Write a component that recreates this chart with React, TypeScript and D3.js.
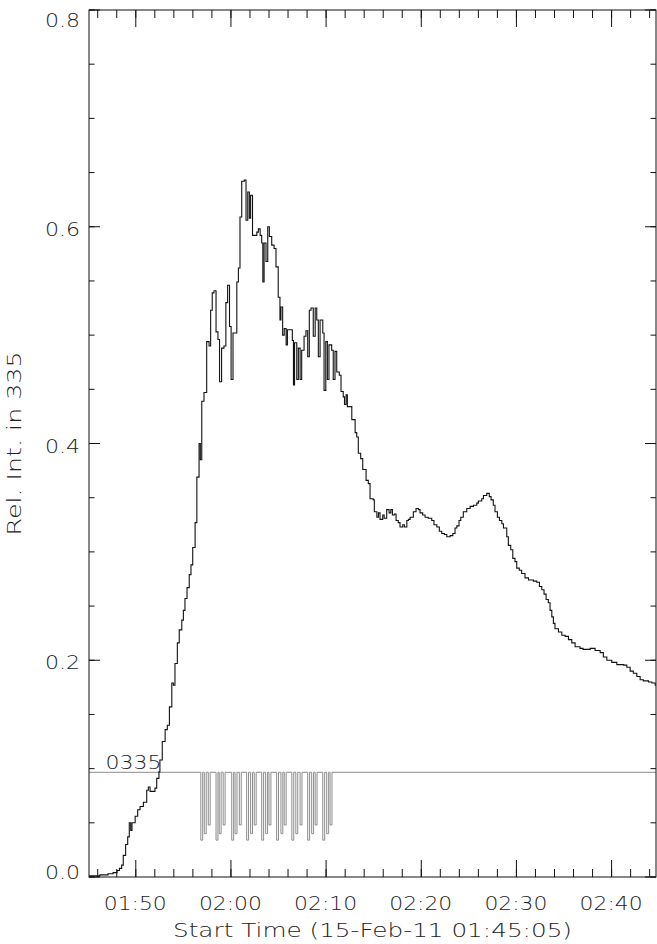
import React from "react";
import * as d3 from "d3";

// ---- data ----
const startLabel = "15-Feb-11 01:45:05";
const startClockSec = 1 * 3600 + 45 * 60 + 5;
const endSec = 3575;

// seconds since start, relative intensity (step data)
const timeSec = [
  0, 69, 120, 152, 177, 192, 206, 216, 231, 244, 254, 263, 271, 291, 307, 322, 343, 364, 374, 385,
  416, 427, 441, 447, 462, 480, 494, 507, 522, 532, 542, 557, 569, 585, 595, 605, 618, 632, 643, 654,
  669, 680, 694, 702, 711, 725, 742, 757, 767, 777, 788, 801, 813, 823, 836, 851, 863, 874, 886, 896,
  908, 932, 942, 952, 963, 979, 990, 1001, 1011, 1019, 1031, 1058, 1068, 1079, 1089, 1096, 1104, 1116, 1127, 1137,
  1152, 1167, 1179, 1193, 1204, 1210, 1221, 1231, 1243, 1251, 1282, 1289, 1296, 1310, 1320, 1331, 1341, 1356, 1368, 1379,
  1389, 1400, 1414, 1426, 1436, 1446, 1457, 1474, 1482, 1493, 1503, 1513, 1530, 1540, 1551, 1562, 1578, 1589, 1603, 1611,
  1621, 1629, 1657, 1678, 1688, 1698, 1713, 1726, 1747, 1761, 1772, 1792, 1799, 1815, 1825, 1835, 1852, 1861, 1877, 1892,
  1903, 1913, 1925, 1936, 1950, 1961, 1978, 1988, 2004, 2014, 2025, 2045, 2062, 2077, 2087, 2104, 2119, 2139, 2161, 2175,
  2193, 2209, 2224, 2241, 2256, 2277, 2294, 2308, 2319, 2333, 2344, 2360, 2382, 2403, 2424, 2445, 2455, 2476, 2487, 2508,
  2524, 2535, 2549, 2560, 2575, 2588, 2603, 2613, 2634, 2644, 2659, 2672, 2686, 2697, 2713, 2728, 2749, 2771, 2802, 2823,
  2840, 2855, 2869, 2882, 2896, 2907, 2918, 2928, 2938, 2960, 2981, 3002, 3023, 3044, 3065, 3096, 3115, 3160, 3191, 3223,
  3243, 3265, 3296, 3328, 3371, 3391, 3412, 3432, 3454, 3475, 3495, 3528, 3549, 3570,
];
const relInt = [
  0.001, 0.002, 0.003, 0.004, 0.006, 0.008, 0.011, 0.02, 0.03, 0.037, 0.05, 0.043, 0.05, 0.056, 0.062, 0.065, 0.069, 0.08, 0.083, 0.079,
  0.082, 0.091, 0.097, 0.108, 0.125, 0.136, 0.14, 0.157, 0.179, 0.177, 0.197, 0.216, 0.228, 0.237, 0.246, 0.257, 0.267, 0.279, 0.288, 0.304,
  0.327, 0.369, 0.4, 0.385, 0.439, 0.447, 0.494, 0.49, 0.523, 0.539, 0.541, 0.503, 0.496, 0.457, 0.488, 0.49, 0.53, 0.546, 0.508, 0.459,
  0.502, 0.549, 0.562, 0.609, 0.642, 0.643, 0.606, 0.632, 0.608, 0.629, 0.592, 0.595, 0.598, 0.592, 0.585, 0.549, 0.585, 0.568, 0.6, 0.591,
  0.583, 0.58, 0.563, 0.535, 0.514, 0.526, 0.5, 0.506, 0.491, 0.505, 0.495, 0.454, 0.493, 0.459, 0.488, 0.459, 0.486, 0.499, 0.504, 0.48,
  0.523, 0.525, 0.499, 0.525, 0.514, 0.48, 0.514, 0.502, 0.449, 0.494, 0.459, 0.491, 0.486, 0.459, 0.485, 0.466, 0.463, 0.448, 0.443, 0.436,
  0.445, 0.434, 0.422, 0.41, 0.406, 0.391, 0.386, 0.376, 0.366, 0.363, 0.349, 0.348, 0.337, 0.332, 0.336, 0.33, 0.334, 0.331, 0.339, 0.336,
  0.339, 0.334, 0.335, 0.329, 0.327, 0.323, 0.325, 0.323, 0.329, 0.33, 0.332, 0.337, 0.34, 0.339, 0.336, 0.334, 0.332, 0.331, 0.329, 0.325,
  0.323, 0.319, 0.317, 0.316, 0.314, 0.315, 0.317, 0.322, 0.324, 0.329, 0.332, 0.337, 0.34, 0.342, 0.343, 0.345, 0.347, 0.349, 0.352, 0.354,
  0.351, 0.348, 0.343, 0.337, 0.332, 0.329, 0.326, 0.322, 0.314, 0.306, 0.302, 0.294, 0.291, 0.285, 0.283, 0.28, 0.276, 0.274, 0.273, 0.272,
  0.268, 0.265, 0.261, 0.256, 0.253, 0.246, 0.24, 0.234, 0.229, 0.226, 0.223, 0.222, 0.219, 0.216, 0.2125, 0.211, 0.21, 0.211, 0.209, 0.207,
  0.203, 0.2, 0.198, 0.196, 0.1955, 0.1935, 0.19, 0.188, 0.185, 0.182, 0.181, 0.18, 0.179, 0.177,
];

// exposure flag markers (gray)
const flagLabel = "0335";
const flagLevel = 0.0966;
const flagWidthSec = 12;
const flagTimeSec = [
  705, 727, 752, 801, 821, 846, 900, 921, 948, 994, 1019, 1042, 1089, 1114, 1135,
  1183, 1210, 1231, 1279, 1304, 1331, 1379, 1404, 1426, 1474, 1499, 1520,
];
const flagValue = [
  0.034, 0.04, 0.048, 0.034, 0.04, 0.048, 0.034, 0.04, 0.048, 0.034, 0.04, 0.048, 0.034, 0.04, 0.048,
  0.034, 0.04, 0.048, 0.034, 0.04, 0.048, 0.034, 0.04, 0.048, 0.034, 0.04, 0.048,
];

const yMajor = [0, 0.2, 0.4, 0.6, 0.8];
const yTickLabels = ["0.0", "0.2", "0.4", "0.6", "0.8"];
const xTickLabels = ["01:50", "02:00", "02:10", "02:20", "02:30", "02:40"];
const yTitle = "Rel. Int. in 335";
const xTitle = "Start Time (" + startLabel + ")";

// ---- layout ----
const W = 657;
const H = 944;
const L = 89;
const R = 656;
const T = 10;
const B = 877;
const FONT = "'DejaVu Sans', sans-serif";
const INK = "#222";
const FS = 19;
const ADJ = "spacingAndGlyphs";

function clockToSec(s: string) {
  const [h, m] = s.split(":").map(Number);
  return h * 3600 + m * 60 - startClockSec;
}

export default function App() {
  const x = d3.scaleLinear().domain([0, endSec]).range([L, R]);
  const y = d3.scaleLinear().domain([0, 0.8]).range([B, T]);

  const pts: [number, number][] = timeSec.map((t, i) => [t, relInt[i]]);
  pts.push([endSec, relInt[relInt.length - 1]]);
  const line = d3
    .line<[number, number]>()
    .x((d) => x(d[0]))
    .y((d) => y(d[1]))
    .curve(d3.curveStepAfter);

  const flagPts: [number, number][] = [[0, flagLevel]];
  flagTimeSec.forEach((t, i) => {
    flagPts.push([t, flagValue[i]]);
    flagPts.push([t + flagWidthSec, flagLevel]);
  });
  flagPts.push([endSec, flagLevel]);

  const yMinor = d3.range(0, 0.8001, 0.05);
  const majorX = xTickLabels.map(clockToSec);
  const minorX: number[] = [];
  for (let s = clockToSec("01:46"); s <= endSec; s += 120) minorX.push(s);

  const xMajLen = 17;
  const xMinLen = 8;
  const yMajLen = 11;
  const yMinLen = 5.5;

  return (
    <svg width={W} height={H} style={{ position: "absolute", left: 0, top: 0, background: "#fff" }}>
      <defs>
        <clipPath id="plotclip">
          <rect x={L} y={T} width={R - L} height={B - T} />
        </clipPath>
      </defs>
      <rect x={0} y={0} width={W} height={H} fill="#fff" />

      <g clipPath="url(#plotclip)">
        <path d={line(flagPts) || ""} fill="none" stroke="#8c8c8c" strokeWidth={1} />
        <path d={line(pts) || ""} fill="none" stroke="#111" strokeWidth={1.1} />
      </g>
      <text x={x(0) + 16.5} y={y(flagLevel) - 3} textLength={56} lengthAdjust={ADJ} fontFamily={FONT} fontWeight={200} fontSize={FS} fill={INK}>
        {flagLabel}
      </text>

      {/* frame */}
      <rect x={L} y={T} width={R - L} height={B - T} fill="none" stroke="#111" strokeWidth={1} />

      {/* x ticks */}
      {minorX.map((s, i) => (
        <g key={"xm" + i} stroke="#111" strokeWidth={1}>
          <line x1={x(s)} x2={x(s)} y1={B} y2={B - xMinLen} />
          <line x1={x(s)} x2={x(s)} y1={T} y2={T + xMinLen} />
        </g>
      ))}
      {majorX.map((s, i) => (
        <g key={"xM" + i}>
          <line x1={x(s)} x2={x(s)} y1={B} y2={B - xMajLen} stroke="#111" />
          <line x1={x(s)} x2={x(s)} y1={T} y2={T + xMajLen} stroke="#111" />
          <text x={x(s) - 32} y={909.5} textLength={63} lengthAdjust={ADJ} fontFamily={FONT} fontWeight={200} fontSize={FS} fill={INK}>
            {xTickLabels[i]}
          </text>
        </g>
      ))}

      {/* y ticks */}
      {yMinor.map((v, i) => (
        <g key={"ym" + i} stroke="#111" strokeWidth={1}>
          <line x1={L} x2={L + yMinLen} y1={y(v)} y2={y(v)} />
          <line x1={R} x2={R - yMinLen} y1={y(v)} y2={y(v)} />
        </g>
      ))}
      {yMajor.map((v, i) => {
        const cy = Math.min(Math.max(y(v) + 2, 20), 872);
        return (
          <g key={"yM" + i}>
            <line x1={L} x2={L + yMajLen} y1={y(v)} y2={y(v)} stroke="#111" />
            <line x1={R} x2={R - yMajLen} y1={y(v)} y2={y(v)} stroke="#111" />
            <text x={45} y={cy + 7} textLength={35} lengthAdjust={ADJ} fontFamily={FONT} fontWeight={200} fontSize={FS} fill={INK}>
              {yTickLabels[i]}
            </text>
          </g>
        );
      })}

      {/* titles */}
      <text x={173} y={937} textLength={399} lengthAdjust={ADJ} fontFamily={FONT} fontWeight={200} fontSize={FS} fill={INK}>
        {xTitle}
      </text>
      <text
        transform={`translate(21,${(T + B) / 2 + 92}) rotate(-90)`}
        textLength={184}
        lengthAdjust={ADJ}
        fontFamily={FONT}
        fontWeight={200}
        fontSize={FS}
        fill={INK}
      >
        {yTitle}
      </text>
    </svg>
  );
}
